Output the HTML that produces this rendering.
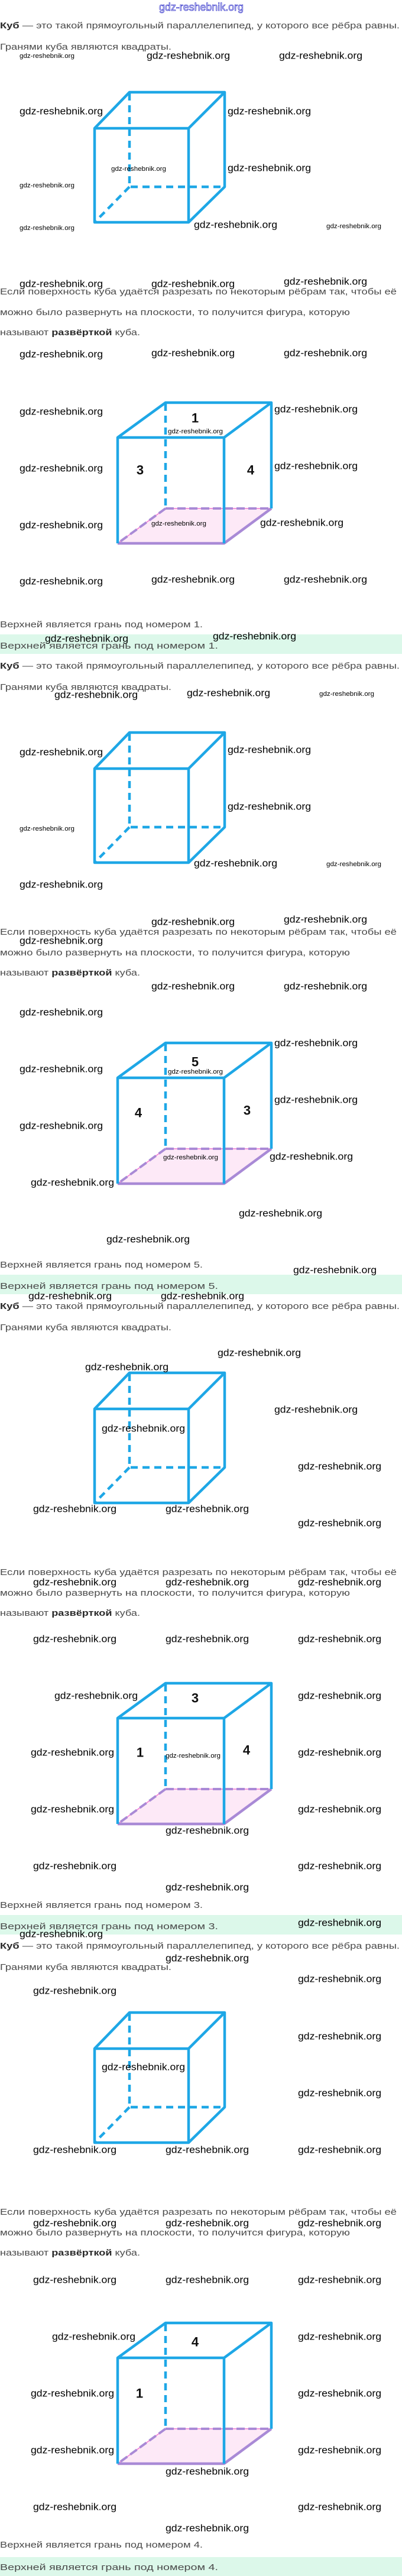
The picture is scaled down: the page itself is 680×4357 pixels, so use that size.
<!DOCTYPE html>
<html><head><meta charset="utf-8"><style>
html,body{margin:0;padding:0;background:#fff;}
svg{display:block;}
.t{font-family:"Liberation Sans",sans-serif;font-size:15px;fill:#4a4a4a;}
.b{font-weight:bold;fill:#2a2a2a;}
.w{font-family:"Liberation Sans",sans-serif;font-size:17px;fill:#000;dominant-baseline:central;}
.s{font-family:"Liberation Sans",sans-serif;font-size:11px;fill:#000;dominant-baseline:central;}
.n{font-family:"Liberation Sans",sans-serif;font-size:22px;font-weight:bold;fill:#111;dominant-baseline:central;text-anchor:middle;}
</style></head><body>
<svg width="680" height="4357" viewBox="0 0 680 4357" xmlns="http://www.w3.org/2000/svg">
<defs>
<g id="c1" fill="none" stroke="#1ea7e6" stroke-width="4.5" stroke-linejoin="round">
<path d="M160,217H319V376H160Z M160,217L219,156H380L319,217 M380,156V316L319,376"/>
<path d="M219,158V316H380 M219,316L160,376" stroke-dasharray="12 8"/>
</g>
<g id="c2" fill="none" stroke-linejoin="round">
<polygon points="199,919 379,919 459,860 280,860" fill="#fde9f7" stroke="none"/>
<path d="M280,860H459 M280,860L199,919" stroke="#f07ad0" stroke-width="1.5"/>
<path d="M280,860H459 M280,860L199,919" stroke="#a98ad6" stroke-width="4" stroke-dasharray="14 6"/>
<path d="M199,919H379L459,860" stroke="#a98ad6" stroke-width="4.5"/>
<path d="M199,919V740H379V919 M199,740L280,681H459L379,740 M459,681V860" stroke="#1ea7e6" stroke-width="4.5"/>
<path d="M280,683V860" stroke="#1ea7e6" stroke-width="4.5" stroke-dasharray="12 8"/>
</g>
</defs>

<!-- header watermark -->
<text x="269" y="18" font-family="Liberation Sans, sans-serif" font-size="18" fill="#fff" stroke="#3a3acc" stroke-width="0.8" textLength="143" lengthAdjust="spacingAndGlyphs">gdz-reshebnik.org</text>

<!-- SECTION TEMPLATE applied 4 times -->
<g transform="translate(0,0)">
<text class="t" y="48" textLength="676" lengthAdjust="spacingAndGlyphs"><tspan class="b">Куб</tspan> — это такой прямоугольный параллелепипед, у которого все рёбра равны.</text>
<text class="t" y="84" textLength="290" lengthAdjust="spacingAndGlyphs">Гранями куба являются квадраты.</text>
<use href="#c1"/>
<text class="t" y="498" textLength="671" lengthAdjust="spacingAndGlyphs">Если поверхность куба удаётся разрезать по некоторым рёбрам так, чтобы её</text>
<text class="t" y="533" textLength="592" lengthAdjust="spacingAndGlyphs">можно было развернуть на плоскости, то получится фигура, которую</text>
<text class="t" y="567" textLength="237" lengthAdjust="spacingAndGlyphs">называют <tspan class="b">развёрткой</tspan> куба.</text>
<use href="#c2"/>
<text class="n" x="330" y="707">1</text><text class="n" x="237" y="795">3</text><text class="n" x="424" y="795">4</text>
<text class="t" y="1061" textLength="343" lengthAdjust="spacingAndGlyphs">Верхней является грань под номером 1.</text>
<rect x="0" y="1073" width="680" height="33" fill="#dcf8ea"/>
<text class="t" y="1097" font-size="16" textLength="369" lengthAdjust="spacingAndGlyphs">Верхней является грань под номером 1.</text>
</g>

<g transform="translate(0,1083)">
<text class="t" y="48" textLength="676" lengthAdjust="spacingAndGlyphs"><tspan class="b">Куб</tspan> — это такой прямоугольный параллелепипед, у которого все рёбра равны.</text>
<text class="t" y="84" textLength="290" lengthAdjust="spacingAndGlyphs">Гранями куба являются квадраты.</text>
<use href="#c1"/>
<text class="t" y="498" textLength="671" lengthAdjust="spacingAndGlyphs">Если поверхность куба удаётся разрезать по некоторым рёбрам так, чтобы её</text>
<text class="t" y="533" textLength="592" lengthAdjust="spacingAndGlyphs">можно было развернуть на плоскости, то получится фигура, которую</text>
<text class="t" y="567" textLength="237" lengthAdjust="spacingAndGlyphs">называют <tspan class="b">развёрткой</tspan> куба.</text>
<use href="#c2"/>
<text class="n" x="330" y="713">5</text><text class="n" x="234" y="799">4</text><text class="n" x="418" y="795">3</text>
<text class="t" y="1061" textLength="343" lengthAdjust="spacingAndGlyphs">Верхней является грань под номером 5.</text>
<rect x="0" y="1073" width="680" height="33" fill="#dcf8ea"/>
<text class="t" y="1097" font-size="16" textLength="369" lengthAdjust="spacingAndGlyphs">Верхней является грань под номером 5.</text>
</g>

<g transform="translate(0,2166)">
<text class="t" y="48" textLength="676" lengthAdjust="spacingAndGlyphs"><tspan class="b">Куб</tspan> — это такой прямоугольный параллелепипед, у которого все рёбра равны.</text>
<text class="t" y="84" textLength="290" lengthAdjust="spacingAndGlyphs">Гранями куба являются квадраты.</text>
<use href="#c1"/>
<text class="t" y="498" textLength="671" lengthAdjust="spacingAndGlyphs">Если поверхность куба удаётся разрезать по некоторым рёбрам так, чтобы её</text>
<text class="t" y="533" textLength="592" lengthAdjust="spacingAndGlyphs">можно было развернуть на плоскости, то получится фигура, которую</text>
<text class="t" y="567" textLength="237" lengthAdjust="spacingAndGlyphs">называют <tspan class="b">развёрткой</tspan> куба.</text>
<use href="#c2"/>
<text class="n" x="330" y="706">3</text><text class="n" x="237" y="798">1</text><text class="n" x="417" y="794">4</text>
<text class="t" y="1061" textLength="343" lengthAdjust="spacingAndGlyphs">Верхней является грань под номером 3.</text>
<rect x="0" y="1073" width="680" height="33" fill="#dcf8ea"/>
<text class="t" y="1097" font-size="16" textLength="369" lengthAdjust="spacingAndGlyphs">Верхней является грань под номером 3.</text>
</g>

<g transform="translate(0,3248)">
<text class="t" y="48" textLength="676" lengthAdjust="spacingAndGlyphs"><tspan class="b">Куб</tspan> — это такой прямоугольный параллелепипед, у которого все рёбра равны.</text>
<text class="t" y="84" textLength="290" lengthAdjust="spacingAndGlyphs">Гранями куба являются квадраты.</text>
<use href="#c1"/>
<text class="t" y="498" textLength="671" lengthAdjust="spacingAndGlyphs">Если поверхность куба удаётся разрезать по некоторым рёбрам так, чтобы её</text>
<text class="t" y="533" textLength="592" lengthAdjust="spacingAndGlyphs">можно было развернуть на плоскости, то получится фигура, которую</text>
<text class="t" y="567" textLength="237" lengthAdjust="spacingAndGlyphs">называют <tspan class="b">развёрткой</tspan> куба.</text>
<use href="#c2"/>
<text class="n" x="330" y="713">4</text><text class="n" x="236" y="800">1</text>
<text class="t" y="1061" textLength="343" lengthAdjust="spacingAndGlyphs">Верхней является грань под номером 4.</text>
<rect x="0" y="1077" width="680" height="32" fill="#dcf8ea"/>
<text class="t" y="1099" font-size="16" textLength="369" lengthAdjust="spacingAndGlyphs">Верхней является грань под номером 4.</text>
</g>

<!-- watermarks big -->
<g class="wm">
<text class="w" x="248" y="94" textLength="141" lengthAdjust="spacingAndGlyphs">gdz-reshebnik.org</text>
<text class="w" x="472" y="94" textLength="141" lengthAdjust="spacingAndGlyphs">gdz-reshebnik.org</text>
<text class="w" x="33" y="188" textLength="141" lengthAdjust="spacingAndGlyphs">gdz-reshebnik.org</text>
<text class="w" x="385" y="188" textLength="141" lengthAdjust="spacingAndGlyphs">gdz-reshebnik.org</text>
<text class="w" x="385" y="284" textLength="141" lengthAdjust="spacingAndGlyphs">gdz-reshebnik.org</text>
<text class="w" x="328" y="380" textLength="141" lengthAdjust="spacingAndGlyphs">gdz-reshebnik.org</text>
<text class="w" x="33" y="480" textLength="141" lengthAdjust="spacingAndGlyphs">gdz-reshebnik.org</text>
<text class="w" x="256" y="480" textLength="141" lengthAdjust="spacingAndGlyphs">gdz-reshebnik.org</text>
<text class="w" x="480" y="476" textLength="141" lengthAdjust="spacingAndGlyphs">gdz-reshebnik.org</text>
<text class="w" x="33" y="599" textLength="141" lengthAdjust="spacingAndGlyphs">gdz-reshebnik.org</text>
<text class="w" x="256" y="597" textLength="141" lengthAdjust="spacingAndGlyphs">gdz-reshebnik.org</text>
<text class="w" x="480" y="597" textLength="141" lengthAdjust="spacingAndGlyphs">gdz-reshebnik.org</text>
<text class="w" x="33" y="696" textLength="141" lengthAdjust="spacingAndGlyphs">gdz-reshebnik.org</text>
<text class="w" x="464" y="692" textLength="141" lengthAdjust="spacingAndGlyphs">gdz-reshebnik.org</text>
<text class="w" x="33" y="792" textLength="141" lengthAdjust="spacingAndGlyphs">gdz-reshebnik.org</text>
<text class="w" x="464" y="788" textLength="141" lengthAdjust="spacingAndGlyphs">gdz-reshebnik.org</text>
<text class="w" x="33" y="888" textLength="141" lengthAdjust="spacingAndGlyphs">gdz-reshebnik.org</text>
<text class="w" x="440" y="884" textLength="141" lengthAdjust="spacingAndGlyphs">gdz-reshebnik.org</text>
<text class="w" x="33" y="983" textLength="141" lengthAdjust="spacingAndGlyphs">gdz-reshebnik.org</text>
<text class="w" x="256" y="980" textLength="141" lengthAdjust="spacingAndGlyphs">gdz-reshebnik.org</text>
<text class="w" x="480" y="980" textLength="141" lengthAdjust="spacingAndGlyphs">gdz-reshebnik.org</text>
<text class="w" x="76" y="1080" textLength="141" lengthAdjust="spacingAndGlyphs">gdz-reshebnik.org</text>
<text class="w" x="360" y="1076" textLength="141" lengthAdjust="spacingAndGlyphs">gdz-reshebnik.org</text>

<text class="w" x="92" y="1175" textLength="141" lengthAdjust="spacingAndGlyphs">gdz-reshebnik.org</text>
<text class="w" x="316" y="1172" textLength="141" lengthAdjust="spacingAndGlyphs">gdz-reshebnik.org</text>
<text class="w" x="33" y="1272" textLength="141" lengthAdjust="spacingAndGlyphs">gdz-reshebnik.org</text>
<text class="w" x="385" y="1268" textLength="141" lengthAdjust="spacingAndGlyphs">gdz-reshebnik.org</text>
<text class="w" x="385" y="1364" textLength="141" lengthAdjust="spacingAndGlyphs">gdz-reshebnik.org</text>
<text class="w" x="328" y="1460" textLength="141" lengthAdjust="spacingAndGlyphs">gdz-reshebnik.org</text>
<text class="w" x="33" y="1496" textLength="141" lengthAdjust="spacingAndGlyphs">gdz-reshebnik.org</text>
<text class="w" x="256" y="1559" textLength="141" lengthAdjust="spacingAndGlyphs">gdz-reshebnik.org</text>
<text class="w" x="480" y="1555" textLength="141" lengthAdjust="spacingAndGlyphs">gdz-reshebnik.org</text>
<text class="w" x="33" y="1591" textLength="141" lengthAdjust="spacingAndGlyphs">gdz-reshebnik.org</text>
<text class="w" x="256" y="1668" textLength="141" lengthAdjust="spacingAndGlyphs">gdz-reshebnik.org</text>
<text class="w" x="480" y="1668" textLength="141" lengthAdjust="spacingAndGlyphs">gdz-reshebnik.org</text>
<text class="w" x="33" y="1712" textLength="141" lengthAdjust="spacingAndGlyphs">gdz-reshebnik.org</text>
<text class="w" x="464" y="1764" textLength="141" lengthAdjust="spacingAndGlyphs">gdz-reshebnik.org</text>
<text class="w" x="33" y="1808" textLength="141" lengthAdjust="spacingAndGlyphs">gdz-reshebnik.org</text>
<text class="w" x="464" y="1860" textLength="141" lengthAdjust="spacingAndGlyphs">gdz-reshebnik.org</text>
<text class="w" x="33" y="1904" textLength="141" lengthAdjust="spacingAndGlyphs">gdz-reshebnik.org</text>
<text class="w" x="456" y="1956" textLength="141" lengthAdjust="spacingAndGlyphs">gdz-reshebnik.org</text>
<text class="w" x="52" y="2000" textLength="141" lengthAdjust="spacingAndGlyphs">gdz-reshebnik.org</text>
<text class="w" x="404" y="2052" textLength="141" lengthAdjust="spacingAndGlyphs">gdz-reshebnik.org</text>
<text class="w" x="180" y="2096" textLength="141" lengthAdjust="spacingAndGlyphs">gdz-reshebnik.org</text>
<text class="w" x="496" y="2148" textLength="141" lengthAdjust="spacingAndGlyphs">gdz-reshebnik.org</text>
<text class="w" x="48" y="2192" textLength="141" lengthAdjust="spacingAndGlyphs">gdz-reshebnik.org</text>
<text class="w" x="272" y="2192" textLength="141" lengthAdjust="spacingAndGlyphs">gdz-reshebnik.org</text>

<text class="w" x="368" y="2288" textLength="141" lengthAdjust="spacingAndGlyphs">gdz-reshebnik.org</text>
<text class="w" x="144" y="2312" textLength="141" lengthAdjust="spacingAndGlyphs">gdz-reshebnik.org</text>
<text class="w" x="464" y="2384" textLength="141" lengthAdjust="spacingAndGlyphs">gdz-reshebnik.org</text>
<text class="w" x="172" y="2416" textLength="141" lengthAdjust="spacingAndGlyphs">gdz-reshebnik.org</text>
<text class="w" x="504" y="2480" textLength="141" lengthAdjust="spacingAndGlyphs">gdz-reshebnik.org</text>
<text class="w" x="56" y="2552" textLength="141" lengthAdjust="spacingAndGlyphs">gdz-reshebnik.org</text>
<text class="w" x="280" y="2552" textLength="141" lengthAdjust="spacingAndGlyphs">gdz-reshebnik.org</text>
<text class="w" x="504" y="2576" textLength="141" lengthAdjust="spacingAndGlyphs">gdz-reshebnik.org</text>
<text class="w" x="56" y="2676" textLength="141" lengthAdjust="spacingAndGlyphs">gdz-reshebnik.org</text>
<text class="w" x="280" y="2676" textLength="141" lengthAdjust="spacingAndGlyphs">gdz-reshebnik.org</text>
<text class="w" x="504" y="2676" textLength="141" lengthAdjust="spacingAndGlyphs">gdz-reshebnik.org</text>
<text class="w" x="56" y="2772" textLength="141" lengthAdjust="spacingAndGlyphs">gdz-reshebnik.org</text>
<text class="w" x="280" y="2772" textLength="141" lengthAdjust="spacingAndGlyphs">gdz-reshebnik.org</text>
<text class="w" x="504" y="2772" textLength="141" lengthAdjust="spacingAndGlyphs">gdz-reshebnik.org</text>
<text class="w" x="92" y="2868" textLength="141" lengthAdjust="spacingAndGlyphs">gdz-reshebnik.org</text>
<text class="w" x="504" y="2868" textLength="141" lengthAdjust="spacingAndGlyphs">gdz-reshebnik.org</text>
<text class="w" x="52" y="2964" textLength="141" lengthAdjust="spacingAndGlyphs">gdz-reshebnik.org</text>
<text class="w" x="504" y="2964" textLength="141" lengthAdjust="spacingAndGlyphs">gdz-reshebnik.org</text>
<text class="w" x="52" y="3060" textLength="141" lengthAdjust="spacingAndGlyphs">gdz-reshebnik.org</text>
<text class="w" x="504" y="3060" textLength="141" lengthAdjust="spacingAndGlyphs">gdz-reshebnik.org</text>
<text class="w" x="280" y="3096" textLength="141" lengthAdjust="spacingAndGlyphs">gdz-reshebnik.org</text>
<text class="w" x="56" y="3156" textLength="141" lengthAdjust="spacingAndGlyphs">gdz-reshebnik.org</text>
<text class="w" x="504" y="3156" textLength="141" lengthAdjust="spacingAndGlyphs">gdz-reshebnik.org</text>
<text class="w" x="280" y="3192" textLength="141" lengthAdjust="spacingAndGlyphs">gdz-reshebnik.org</text>
<text class="w" x="504" y="3252" textLength="141" lengthAdjust="spacingAndGlyphs">gdz-reshebnik.org</text>
<text class="w" x="33" y="3271" textLength="141" lengthAdjust="spacingAndGlyphs">gdz-reshebnik.org</text>
<text class="w" x="280" y="3312" textLength="141" lengthAdjust="spacingAndGlyphs">gdz-reshebnik.org</text>

<text class="w" x="504" y="3347" textLength="141" lengthAdjust="spacingAndGlyphs">gdz-reshebnik.org</text>
<text class="w" x="56" y="3367" textLength="141" lengthAdjust="spacingAndGlyphs">gdz-reshebnik.org</text>
<text class="w" x="504" y="3444" textLength="141" lengthAdjust="spacingAndGlyphs">gdz-reshebnik.org</text>
<text class="w" x="172" y="3496" textLength="141" lengthAdjust="spacingAndGlyphs">gdz-reshebnik.org</text>
<text class="w" x="504" y="3540" textLength="141" lengthAdjust="spacingAndGlyphs">gdz-reshebnik.org</text>
<text class="w" x="56" y="3636" textLength="141" lengthAdjust="spacingAndGlyphs">gdz-reshebnik.org</text>
<text class="w" x="280" y="3636" textLength="141" lengthAdjust="spacingAndGlyphs">gdz-reshebnik.org</text>
<text class="w" x="504" y="3636" textLength="141" lengthAdjust="spacingAndGlyphs">gdz-reshebnik.org</text>
<text class="w" x="56" y="3760" textLength="141" lengthAdjust="spacingAndGlyphs">gdz-reshebnik.org</text>
<text class="w" x="280" y="3760" textLength="141" lengthAdjust="spacingAndGlyphs">gdz-reshebnik.org</text>
<text class="w" x="504" y="3760" textLength="141" lengthAdjust="spacingAndGlyphs">gdz-reshebnik.org</text>
<text class="w" x="56" y="3856" textLength="141" lengthAdjust="spacingAndGlyphs">gdz-reshebnik.org</text>
<text class="w" x="280" y="3856" textLength="141" lengthAdjust="spacingAndGlyphs">gdz-reshebnik.org</text>
<text class="w" x="504" y="3856" textLength="141" lengthAdjust="spacingAndGlyphs">gdz-reshebnik.org</text>
<text class="w" x="88" y="3952" textLength="141" lengthAdjust="spacingAndGlyphs">gdz-reshebnik.org</text>
<text class="w" x="504" y="3952" textLength="141" lengthAdjust="spacingAndGlyphs">gdz-reshebnik.org</text>
<text class="w" x="52" y="4048" textLength="141" lengthAdjust="spacingAndGlyphs">gdz-reshebnik.org</text>
<text class="w" x="504" y="4048" textLength="141" lengthAdjust="spacingAndGlyphs">gdz-reshebnik.org</text>
<text class="w" x="52" y="4144" textLength="141" lengthAdjust="spacingAndGlyphs">gdz-reshebnik.org</text>
<text class="w" x="504" y="4144" textLength="141" lengthAdjust="spacingAndGlyphs">gdz-reshebnik.org</text>
<text class="w" x="280" y="4180" textLength="141" lengthAdjust="spacingAndGlyphs">gdz-reshebnik.org</text>
<text class="w" x="56" y="4240" textLength="141" lengthAdjust="spacingAndGlyphs">gdz-reshebnik.org</text>
<text class="w" x="504" y="4240" textLength="141" lengthAdjust="spacingAndGlyphs">gdz-reshebnik.org</text>
<text class="w" x="280" y="4276" textLength="141" lengthAdjust="spacingAndGlyphs">gdz-reshebnik.org</text>

<!-- small -->
<text class="s" x="33" y="95" textLength="93" lengthAdjust="spacingAndGlyphs">gdz-reshebnik.org</text>
<text class="s" x="33" y="314" textLength="93" lengthAdjust="spacingAndGlyphs">gdz-reshebnik.org</text>
<text class="s" x="188" y="286" textLength="93" lengthAdjust="spacingAndGlyphs">gdz-reshebnik.org</text>
<text class="s" x="33" y="386" textLength="93" lengthAdjust="spacingAndGlyphs">gdz-reshebnik.org</text>
<text class="s" x="552" y="383" textLength="93" lengthAdjust="spacingAndGlyphs">gdz-reshebnik.org</text>
<text class="s" x="284" y="730" textLength="93" lengthAdjust="spacingAndGlyphs">gdz-reshebnik.org</text>
<text class="s" x="256" y="886" textLength="93" lengthAdjust="spacingAndGlyphs">gdz-reshebnik.org</text>
<text class="s" x="540" y="1174" textLength="93" lengthAdjust="spacingAndGlyphs">gdz-reshebnik.org</text>
<text class="s" x="33" y="1402" textLength="93" lengthAdjust="spacingAndGlyphs">gdz-reshebnik.org</text>
<text class="s" x="552" y="1462" textLength="93" lengthAdjust="spacingAndGlyphs">gdz-reshebnik.org</text>
<text class="s" x="284" y="1813" textLength="93" lengthAdjust="spacingAndGlyphs">gdz-reshebnik.org</text>
<text class="s" x="276" y="1958" textLength="93" lengthAdjust="spacingAndGlyphs">gdz-reshebnik.org</text>
<text class="s" x="280" y="2970" textLength="93" lengthAdjust="spacingAndGlyphs">gdz-reshebnik.org</text>
</g>
</svg>
</body></html>
